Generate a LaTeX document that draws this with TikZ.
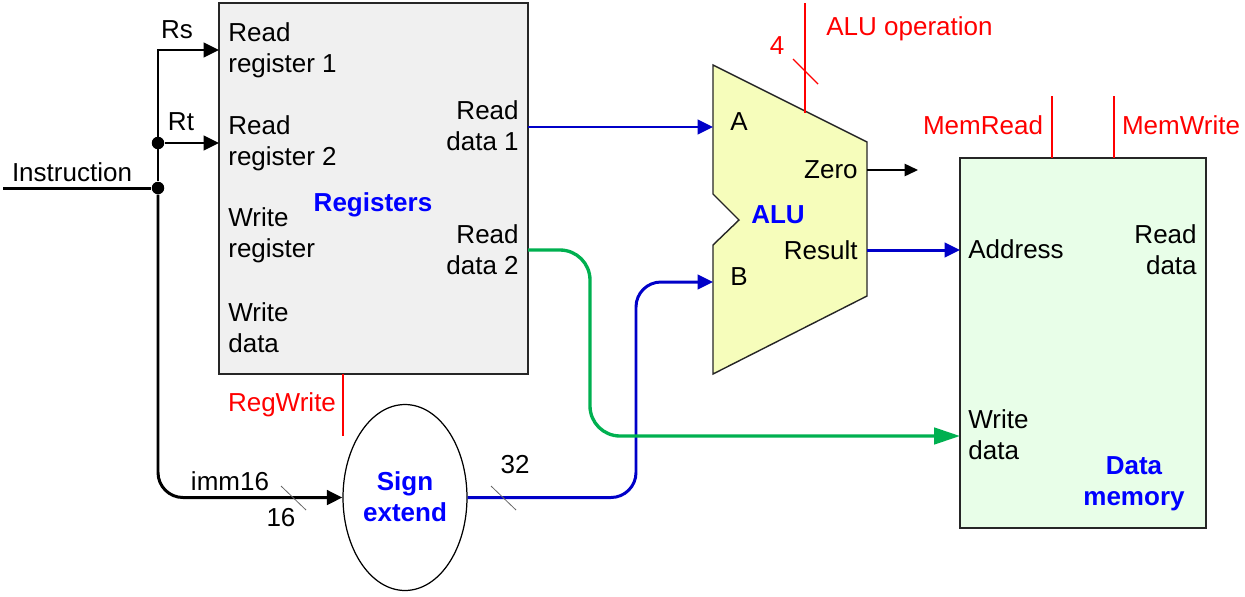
\documentclass[tikz,border=0pt]{standalone}
\usepackage{fontspec}
\setmainfont{Liberation Sans}
\usetikzlibrary{arrows.meta,shapes.geometric}

\definecolor{wireblue}{HTML}{0000C8}
\definecolor{wiregreen}{HTML}{00B050}
\definecolor{regfill}{HTML}{F0F0F0}
\definecolor{alufill}{HTML}{F6FDBB}
\definecolor{memfill}{HTML}{E8FEE8}

\tikzset{
    lbl/.style={inner sep=0pt,font=\fontsize{14.8}{17.8}\selectfont},
    unitlbl/.style={lbl,text=blue,align=center,font=\fontsize{14.8}{17.8}\selectfont\bfseries},
    ctrllbl/.style={lbl,text=red},
    unitbox/.style={draw=black!85,line width=0.8pt,rectangle,inner sep=0pt},
    wire/.style={line width=1.7pt,-{Triangle[length=0.31cm,width=0.29cm]}},
    ctrl/.style={red,line width=0.8pt},
    slash/.style={black!60,line width=0.45pt},
    joint/.style={circle,fill=black,inner sep=0pt,minimum size=0.25cm}
}

\begin{document}
\begin{tikzpicture}[x=0.02cm,y=-0.02cm]
    \useasboundingbox (0,0) rectangle (1245,596);

    % Draw the units
    \node[unitbox,fill=regfill,minimum width=6.18cm,minimum height=7.42cm] (registers) at (373.5,188.5) {};
    \node[unitbox,fill=memfill,minimum width=4.92cm,minimum height=7.4cm] (datamem) at (1083,343) {};
    \node[draw=black,fill=white,line width=0.7pt,ellipse,inner sep=0pt,minimum width=2.48cm,minimum height=3.72cm] (signext) at (405,497.5) {};
    \draw[fill=alufill,draw=black!85,line width=0.8pt] (713,65) -- (867,142) -- (867,296) -- (713,374)
        -- (713,245) -- (739,220) -- (713,194) -- cycle;

    % Ports on the units
    \coordinate (aluA) at (713,127);
    \coordinate (aluB) at (713,282);
    \coordinate (aluZero) at (867,170);
    \coordinate (aluResult) at (867,250);
    \coordinate (aluTop) at (805,113);
    \coordinate (zeroEnd) at (918,170);
    \coordinate (instrStart) at (3,188);
    \coordinate (opTop) at (805,3);
    \coordinate (regWriteEnd) at (343,436);
    \coordinate (readOne) at (528,127);
    \coordinate (readTwo) at (528,250);
    \coordinate (regWriteIn) at (343,374);
    \coordinate (memAddr) at (960,250);
    \coordinate (memData) at (960,436);
    \coordinate (rsTurn) at (158,50);
    \coordinate (rsIn) at (219,50);
    \coordinate (rtIn) at (219,143);

    % Junctions on the instruction bus
    \node[joint] (rtJoint) at (158,143) {};
    \node[joint] (instrJoint) at (158,188) {};

    % Instruction wires
    \draw[line width=1.7pt] (instrStart) -- (instrJoint);
    \draw[wire,line join=miter] (instrJoint) -- (rsTurn) -- (rsIn);
    \draw[wire] (rtJoint) -- (rtIn);
    \draw[wire,rounded corners=0.5cm] (instrJoint) |- (signext.west);

    % Data wires
    \draw[wire,wireblue] (readOne) -- (aluA);
    \draw[wire,wireblue] (aluResult) -- (memAddr);
    \draw[wire,wireblue,rounded corners=0.5cm] (signext.east) -- (636,497.5) -- (636,282) -- (aluB);
    \draw[wire,wiregreen,line width=1.9pt,-{Triangle[length=0.52cm,width=0.33cm]},rounded corners=0.6cm] (readTwo) -- (590,250) -- (590,436) -- (memData);
    \draw[line width=0.8pt,-{Triangle[length=0.27cm,width=0.25cm]}] (aluZero) -- (zeroEnd);

    % Control lines
    \draw[ctrl] (opTop) -- (aluTop);
    \draw[ctrl] (regWriteIn) -- (regWriteEnd);
    \foreach \x in {1052,1114}
        \draw[ctrl] (\x,96) -- (\x,158);

    % Bus width ticks
    \draw[ctrl] (793,59) -- (818,84);
    \foreach \x in {281,491}
        \draw[slash] (\x,486) -- (\x+25,510);

    % Labels on the left side of the registers
    \node[lbl,anchor=west,align=left] (readRegOne) at (228,50.5) {Read\\register 1};
    \node[lbl,anchor=west,align=left] (readRegTwo) at (228,143) {Read\\register 2};
    \node[lbl,anchor=west,align=left] (writeReg) at (228,235) {Write\\register};
    \node[lbl,anchor=west,align=left] (writeData) at (228,328) {Write\\data};
    % Labels on the right side of the registers
    \node[lbl,anchor=east,align=right] (readDataOne) at (519,125.5) {Read\\data 1};
    \node[lbl,anchor=east,align=right] (readDataTwo) at (519,249.5) {Read\\data 2};

    % Labels of the ALU
    \node[lbl] (aLbl) at (739,122) {A};
    \node[lbl] (bLbl) at (739,277) {B};
    \node[lbl,anchor=east] (zeroLbl) at (858,170) {Zero};
    \node[lbl,anchor=east] (resultLbl) at (858,250) {Result};

    % Labels of the data memory
    \node[lbl,anchor=west] (addrLbl) at (968,249) {Address};
    \node[lbl,anchor=east,align=right] (memReadData) at (1197,249.5) {Read\\data};
    \node[lbl,anchor=west,align=left] (memWriteData) at (968,435) {Write\\data};

    % Unit names
    \node[unitlbl] (regName) at (373,205) {Registers};
    \node[unitlbl] (aluName) at (778,215) {ALU};
    \node[unitlbl] (signName) at (405,497) {Sign\\extend};
    \node[unitlbl] (memName) at (1134,484) {Data\\memory};

    % Control labels
    \node[ctrllbl,anchor=west] (opLbl) at (826,29) {ALU operation};
    \node[ctrllbl] (opWidth) at (777,46) {4};
    \node[ctrllbl] (memReadLbl) at (983,125) {MemRead};
    \node[ctrllbl] (memWriteLbl) at (1181,125) {MemWrite};
    \node[ctrllbl] (regWriteLbl) at (282,405) {RegWrite};

    % Wire labels
    \node[lbl] (rsLbl) at (177,30) {Rs};
    \node[lbl] (rtLbl) at (181,122) {Rt};
    \node[lbl] (instrLbl) at (72,172) {Instruction};
    \node[lbl] (immLbl) at (230,481) {imm16};
    \node[lbl] (immWidth) at (281,518) {16};
    \node[lbl] (extWidth) at (515,465) {32};
\end{tikzpicture}
\end{document}
